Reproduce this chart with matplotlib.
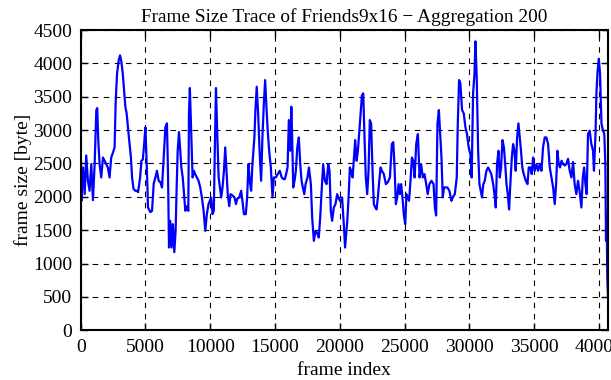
import matplotlib
matplotlib.use("Agg")
import matplotlib.pyplot as plt

# frame index / aggregated frame size [byte]
frames = [
    0, 60, 180, 310, 430, 560, 690, 820, 950, 1080, 1210, 1280, 1360, 1460,
    1590, 1720, 1850, 1970, 2100, 2230, 2360, 2490, 2620, 2700, 2810, 2940,
    3040, 3140, 3250, 3350, 3450, 3550, 3620, 3720, 3880, 3970, 4080, 4230,
    4330, 4430, 4590, 4690, 4800, 4900, 5000, 5100, 5200,
    5380, 5510, 5640, 5770, 5890, 6020, 6150, 6280, 6410, 6540, 6660, 6740,
    6820, 6920, 7020, 7120, 7230, 7330, 7410, 7490, 7590, 7690, 7770, 7880,
    7980, 8080, 8210, 8310, 8360, 8430, 8540, 8640, 8740, 8840, 8970, 9100,
    9230, 9360, 9490, 9620, 9740, 9870, 9970, 10070, 10180, 10280,
    10345, 10445, 10545, 10650, 10750, 10850, 10950, 11060, 11160, 11260,
    11360, 11470, 11570, 11720, 11880, 11990, 12090, 12240, 12390, 12500,
    12600, 12750, 12850, 12950, 13050, 13160, 13260, 13410, 13490, 13590,
    13700, 13810, 13930, 14030, 14140, 14240, 14340, 14440, 14550, 14680,
    14810, 14910, 15060, 15220, 15370, 15520,
    15660, 15760, 15860, 15970, 16070, 16180, 16260, 16330, 16410, 16510,
    16610, 16720, 16840, 16950, 17050, 17150, 17260, 17360, 17510, 17620,
    17770, 17870, 18000, 18130, 18250, 18380, 18490, 18600, 18720, 18850,
    18980, 19110, 19210, 19310, 19410, 19540, 19670, 19800, 19930, 20090,
    20180, 20310, 20410,
    20580, 20680, 20780, 20880, 20990, 21110, 21190, 21300, 21400, 21510,
    21610, 21710, 21810, 21910, 22010, 22120, 22220, 22320, 22420, 22530,
    22630, 22740, 22840, 22940, 23050, 23150, 23250, 23400, 23560, 23710,
    23870, 24020, 24130, 24230, 24330, 24430, 24540, 24640, 24740, 24840,
    24940, 25050, 25150, 25250, 25350, 25460, 25570, 25670,
    25780, 25900, 26030, 26160, 26280, 26410, 26540, 26670, 26790, 26920,
    27080, 27240, 27340, 27440, 27540, 27650, 27750, 27850, 27950, 28050,
    28160, 28310, 28460, 28620, 28720, 28880, 29030, 29110, 29210, 29310,
    29440, 29570, 29700, 29820, 29950, 30080, 30180, 30290, 30400, 30470,
    30570, 30680, 30780, 30880, 30980, 31080,
    31190, 31320, 31450, 31580, 31700, 31840, 31970, 32040, 32140, 32250,
    32350, 32450, 32560, 32670, 32770, 32870, 32970, 33070, 33180, 33280,
    33380, 33480, 33580, 33690, 33790, 33890, 33990, 34090, 34200, 34360,
    34490, 34590, 34720, 34820, 34920, 35050, 35180, 35310, 35440, 35570,
    35690, 35820, 35950, 36080,
    36210, 36340, 36470, 36590, 36700, 36800, 36900, 37000, 37120, 37240,
    37370, 37490, 37620, 37750, 37880, 38010, 38130, 38260, 38390, 38510,
    38650, 38760, 38860, 38960, 39060, 39160, 39290, 39420, 39550, 39620,
    39740, 39810, 39890, 39990, 40090, 40200, 40320, 40420, 40500, 40550,
    40600, 40650, 40700,
]
sizes = [
    2880, 1940, 2440, 2040, 2620, 2240, 2090, 2490, 1950, 2490, 3300, 3330, 2850, 2490,
    2290, 2590, 2540, 2490, 2440, 2290, 2590, 2660, 2740, 3400, 3850, 4050,
    4120, 4030, 3850, 3600, 3350, 3250, 3100, 2900, 2590, 2290, 2120, 2090,
    2090, 2070, 2290, 2540, 2560, 2790, 3040, 2490, 1840,
    1770, 1790, 2200, 2290, 2390, 2240, 2220, 2140, 2590, 3040, 3100, 2390,
    1240, 1640, 1240, 1590, 1170, 1490, 2140, 2690, 2970, 2690, 2440, 2290,
    2040, 1790, 1860, 1790, 3250, 3630, 2940, 2290, 2390, 2340, 2290, 2240,
    2140, 1990, 1790, 1490, 1740, 1890, 1940, 1990, 1740, 1790,
    2590, 3630, 2940, 2290, 2140, 1990, 2140, 2390, 2740, 2390,
    2020, 1860, 2040, 2020, 1990, 1890, 1970, 1990, 2090, 1920,
    1740, 1740, 1990, 2490, 2240, 2090, 2490, 2890, 3300, 3650,
    3250, 2690, 2240, 2890, 3400, 3750, 3350, 2990, 2690, 2440,
    1990, 2290, 2290, 2340, 2390, 2290,
    2265, 2265, 2340, 2440, 3150, 2690, 3350, 2850, 2140, 2240,
    2390, 2740, 2890, 2490, 2240, 2140, 2040, 2190, 2290, 2440,
    2190, 1690, 1340, 1490, 1460, 1390, 1690, 2090, 2490, 2240,
    2190, 2490, 2390, 1790, 1640, 1840, 1890, 2040, 1970, 1920,
    1990, 1590, 1240,
    1640, 1990, 2440, 2390, 2290, 2640, 2850, 2540, 2690, 2990,
    3250, 3520, 3550, 2890, 2290, 2040, 2390, 3150, 3100, 2390,
    1890, 1840, 1810, 1990, 2240, 2440, 2390, 2340, 2190, 2220,
    2290, 2790, 2820, 2440, 1890, 1990, 2190, 2040, 2190, 1990,
    1740, 1590, 2040, 1990, 1940, 2240, 2590, 2540,
    2290, 2790, 2940, 2290, 2490, 2290, 2340, 2190, 2040, 2190,
    2240, 2190, 1840, 1720, 3100, 3300, 2940, 2590, 1990, 2140,
    2140, 2140, 2090, 1940, 1990, 2040, 2290, 3100, 3750, 3700,
    3300, 3250, 3040, 2940, 2740, 2640, 2290, 3550, 3850, 4330,
    3800, 2690, 2190, 2090, 1990, 2190,
    2240, 2390, 2440, 2390, 2340, 2190, 1990, 1840, 2490, 2690,
    2290, 2440, 2850, 2740, 2490, 2190, 2040, 1810, 2240, 2590,
    2790, 2690, 2390, 2890, 3100, 2890, 2690, 2440, 2340, 2240,
    2190, 2440, 2440, 2340, 2590, 2390, 2490, 2390, 2490, 2390,
    2740, 2890, 2890, 2790,
    2440, 2290, 2140, 1890, 2190, 2690, 2490, 2440, 2540, 2490,
    2470, 2490, 2570, 2390, 2290, 2520, 2190, 2040, 2240, 2090,
    1840, 2290, 2440, 2190, 2040, 2940, 2990, 2790, 2690, 2390,
    2940, 3550, 3850, 4070, 3850, 3100, 2990, 2940, 2490, 1340,
    1740, 790, 540,
]

x_ticks = list(range(0, 40001, 5000))
y_ticks = list(range(0, 4501, 500))

plt.rcParams['font.family'] = ['Liberation Serif', 'DejaVu Serif']

fig = plt.figure(figsize=(6.11, 3.80), dpi=100)
ax = fig.add_axes([0.132, 0.131, 0.863, 0.790])

ax.plot(frames, sizes, color='#0000ff', lw=1.6)

ax.set_xlim(0, 40700)
ax.set_ylim(0, 4500)
ax.set_xticks(x_ticks)
ax.set_yticks(y_ticks)
ax.grid(True, color='black', linestyle=(0, (5, 5)), linewidth=0.8)
ax.tick_params(direction='in', length=5, width=1, top=True, right=True,
               pad=6, labelsize=14)
for sp in ax.spines.values():
    sp.set_linewidth(1.5)

ax.set_xlabel('frame index', fontsize=14, labelpad=5)
ax.set_ylabel('frame size [byte]', fontsize=14, labelpad=1)
ax.set_title('Frame Size Trace of Friends9x16 \u2212 Aggregation 200',
             fontsize=13.9, pad=6)

fig.savefig('out.png', dpi=100)
